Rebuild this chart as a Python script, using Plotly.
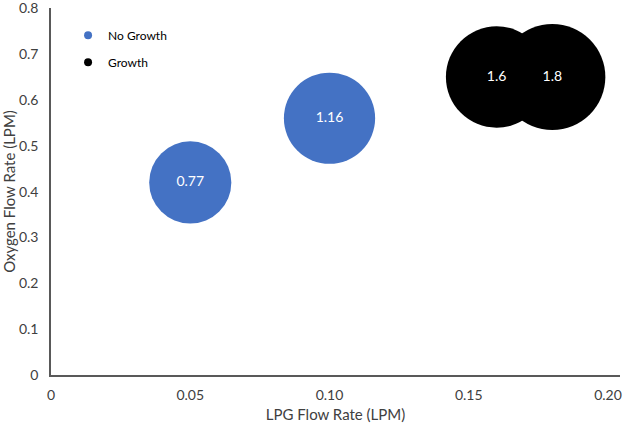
import plotly.graph_objects as go

# Data
lpg_no_growth = [0.05, 0.10]
oxy_no_growth = [0.42, 0.56]
size_no_growth = [0.77, 1.16]

lpg_growth = [0.16, 0.18]
oxy_growth = [0.65, 0.65]
size_growth = [1.6, 1.8]

x_ticks = [0, 0.05, 0.10, 0.15, 0.20]
x_tick_labels = ["0", "0.05", "0.10", "0.15", "0.20"]
y_ticks = [0, 0.1, 0.2, 0.3, 0.4, 0.5, 0.6, 0.7, 0.8]
y_tick_labels = ["0", "0.1", "0.2", "0.3", "0.4", "0.5", "0.6", "0.7", "0.8"]

FONT = "Lato"
BLUE = "#4472C4"
BLACK = "#000000"


def bubble_px(values):
    # bubble diameter in pixels (Excel-like scaling)
    return [64.3 + 23.2 * v for v in values]


fig = go.Figure()

fig.add_trace(go.Scatter(
    x=lpg_no_growth, y=oxy_no_growth, mode="markers+text",
    text=[f"{v:g}" for v in size_no_growth], textposition="middle center",
    textfont=dict(color="white", size=14, family=FONT),
    marker=dict(size=bubble_px(size_no_growth), color=BLUE, opacity=1,
                line=dict(width=0)),
    showlegend=False, cliponaxis=False,
))
fig.add_trace(go.Scatter(
    x=lpg_growth, y=oxy_growth, mode="markers+text",
    text=[f"{v:g}" for v in size_growth], textposition="middle center",
    textfont=dict(color="white", size=14, family=FONT),
    marker=dict(size=bubble_px(size_growth), color=BLACK, opacity=1,
                line=dict(width=0)),
    showlegend=False, cliponaxis=False,
))

# legend entries
fig.add_trace(go.Scatter(x=[None], y=[None], mode="markers", name="No Growth",
                         marker=dict(size=8, color=BLUE), legendgroup="a"))
fig.add_trace(go.Scatter(x=[None], y=[None], mode="markers", name="Growth",
                         marker=dict(size=8, color=BLACK), legendgroup="b"))

fig.update_layout(
    width=624, height=425,
    margin=dict(l=51, r=4, t=8, b=50, autoexpand=False),
    paper_bgcolor="white", plot_bgcolor="white",
    font=dict(family=FONT, size=14, color="#404040"),
    legend=dict(x=0.03, y=0.965, xanchor="left", yanchor="top",
                bgcolor="rgba(0,0,0,0)", font=dict(size=12, color="#000000", family=FONT),
                itemsizing="trace", traceorder="grouped", tracegroupgap=8),
    xaxis=dict(range=[0, 0.2043], tickvals=x_ticks, ticktext=x_tick_labels,
               showgrid=False, zeroline=False, showline=True, linecolor="#595959",
               linewidth=1.5, ticks="", ticklabelstandoff=6, ticklabeloverflow="allow",
               automargin=False,
               title=dict(text="LPG Flow Rate (LPM)", font=dict(size=15, color="#404040"),
                          standoff=8),
               tickfont=dict(size=14, color="#404040")),
    yaxis=dict(range=[0, 0.8005], tickvals=y_ticks, ticktext=y_tick_labels,
               showgrid=False, zeroline=False, showline=True, linecolor="#595959",
               linewidth=1.5, ticks="", ticklabelstandoff=8, ticklabeloverflow="allow",
               automargin=False,
               title=dict(text="Oxygen Flow Rate (LPM)", font=dict(size=15, color="#404040"),
                          standoff=5),
               tickfont=dict(size=14, color="#404040")),
)

fig.write_html("out.html", config={"displayModeBar": False},
               post_script="document.body.style.margin='0';document.body.style.padding='0';")
